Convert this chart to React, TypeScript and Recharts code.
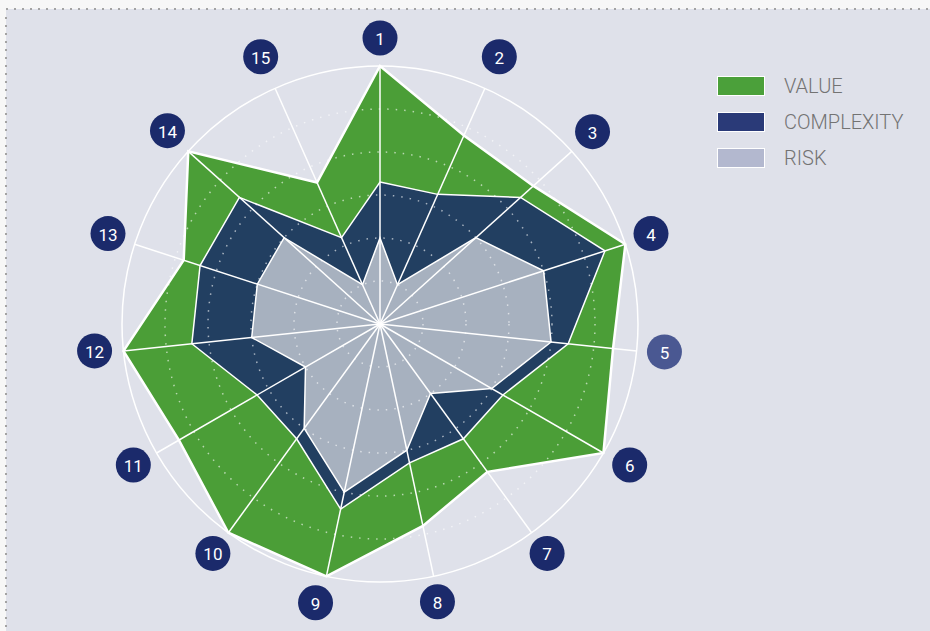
import React from 'react';
import { RadarChart, Radar, PolarGrid, PolarAngleAxis, PolarRadiusAxis, Legend } from 'recharts';

const axes = ['1', '2', '3', '4', '5', '6', '7', '8', '9', '10', '11', '12', '13', '14', '15'];
const valueScores = [6, 4.8, 4.8, 6, 5.45, 6, 4.25, 4.8, 6, 6, 5.4, 6, 4.8, 6, 3.6];
const complexityScores = [3.3, 3.3, 4.4, 5.5, 4.4, 3.3, 3.3, 3.3, 4.4, 3.3, 3.3, 4.4, 4.4, 4.4, 2.2];
const riskScores = [2, 1, 3, 4, 4, 3, 2, 3, 4, 3, 2, 3, 3, 3, 1];
const highlightedAxis = '5';

const seriesNames = ['VALUE', 'COMPLEXITY', 'RISK'];
const seriesFill = ['#4b9e37', '#223f61', '#a7b1bf'];
const legendFill = ['#4ba03a', '#2a3a78', '#b3b8cf'];

// small visual nudges for the round axis badges (style only)
const badgeNudge: Record<string, [number, number]> = {
  '1': [0, 0], '2': [3, -6], '3': [0, -1], '4': [-1, -2], '5': [0, -2],
  '6': [2, -2], '7': [-1, -2], '8': [-2, -2], '9': [-5, -1], '10': [1, -2],
  '11': [1, -2], '12': [-1, -3], '13': [0, -2], '14': [0, -2], '15': [-3, -6],
};

const data = axes.map((a, i) => ({
  axis: a,
  value: valueScores[i],
  complexity: complexityScores[i],
  risk: riskScores[i],
}));

const W = 930;
const H = 631;
const CX = 380;
const CY = 324;
const R = 258;
const MAX = 6;
const ringRadii = [1, 2, 3, 4, 5].map((i) => (R * i) / MAX);

const AngleTick = (props: any) => {
  const { x, y, payload } = props;
  const ang = (payload.coordinate * Math.PI) / 180;
  const n = badgeNudge[payload.value] || [0, 0];
  const px = x + Math.cos(ang) * 20 + n[0];
  const py = y - Math.sin(ang) * 20 + n[1];
  const hl = payload.value === highlightedAxis;
  return (
    <g>
      <circle cx={px} cy={py} r={17.5} fill={hl ? '#4a5892' : '#1b2a6b'} />
      <text
        x={px}
        y={py + 1}
        textAnchor="middle"
        dominantBaseline="central"
        fill="#ffffff"
        fontSize={17}
        fontFamily="Roboto, sans-serif"
      >
        {payload.value}
      </text>
    </g>
  );
};

const LegendContent = () => (
  <div style={{ fontFamily: 'Roboto, sans-serif' }}>
    {seriesNames.map((n, i) => (
      <div key={n} style={{ display: 'flex', alignItems: 'center', height: 20, marginBottom: 16 }}>
        <div
          style={{
            width: 46,
            height: 18,
            background: legendFill[i],
            border: '1px solid #ffffff',
            marginRight: 19,
            flexShrink: 0,
          }}
        />
        <span style={{ fontSize: 20, fontWeight: 300, color: '#737373', whiteSpace: 'nowrap', lineHeight: '20px' }}>{n}</span>
      </div>
    ))}
  </div>
);

export default function App() {
  return (
    <div style={{ position: 'absolute', left: 0, top: 0, width: W, height: H, background: '#f7f7f7', overflow: 'hidden' }}>
      <div style={{ position: 'absolute', left: 6, top: 9, width: W - 6, height: H - 9, background: '#dfe1ea' }} />
      <svg style={{ position: 'absolute', left: 0, top: 0 }} width={W} height={H}>
        <line x1={6} y1={9} x2={W} y2={9} stroke="#a3a3a3" strokeWidth={2} strokeDasharray="2 6" />
        <line x1={6} y1={17} x2={6} y2={H} stroke="#a3a3a3" strokeWidth={2} strokeDasharray="2 6" />
      </svg>
      <div style={{ position: 'absolute', left: 0, top: 0 }}>
        <RadarChart width={W} height={H} cx={CX} cy={CY} outerRadius={R} data={data} margin={{ top: 0, right: 0, bottom: 0, left: 0 }}>
          <PolarRadiusAxis domain={[0, MAX]} tick={false} axisLine={false} />
          <Radar
            name={seriesNames[0]}
            dataKey="value"
            fill={seriesFill[0]}
            fillOpacity={1}
            stroke="#ffffff"
            strokeWidth={2.5}
            isAnimationActive={false}
          />
          <Radar
            name={seriesNames[1]}
            dataKey="complexity"
            fill={seriesFill[1]}
            fillOpacity={1}
            stroke="#ffffff"
            strokeWidth={1.5}
            isAnimationActive={false}
          />
          <Radar
            name={seriesNames[2]}
            dataKey="risk"
            fill={seriesFill[2]}
            fillOpacity={1}
            stroke="#ffffff"
            strokeWidth={1.5}
            isAnimationActive={false}
          />
          <PolarGrid
            gridType="circle"
            polarRadius={ringRadii}
            radialLines={false}
            stroke="#ffffff"
            strokeOpacity={0.6}
            strokeDasharray="1.5 7"
            strokeWidth={1.5}
            zIndex={1000}
          />
          <PolarGrid gridType="circle" polarRadius={[R]} stroke="#ffffff" strokeWidth={1.5} zIndex={1000} />
          <PolarAngleAxis dataKey="axis" tick={<AngleTick />} axisLine={false} tickLine={false} />
          <Legend
            content={<LegendContent />}
            wrapperStyle={{ position: 'absolute', left: 717, top: 76, width: 210 }}
          />
        </RadarChart>
      </div>
    </div>
  );
}
